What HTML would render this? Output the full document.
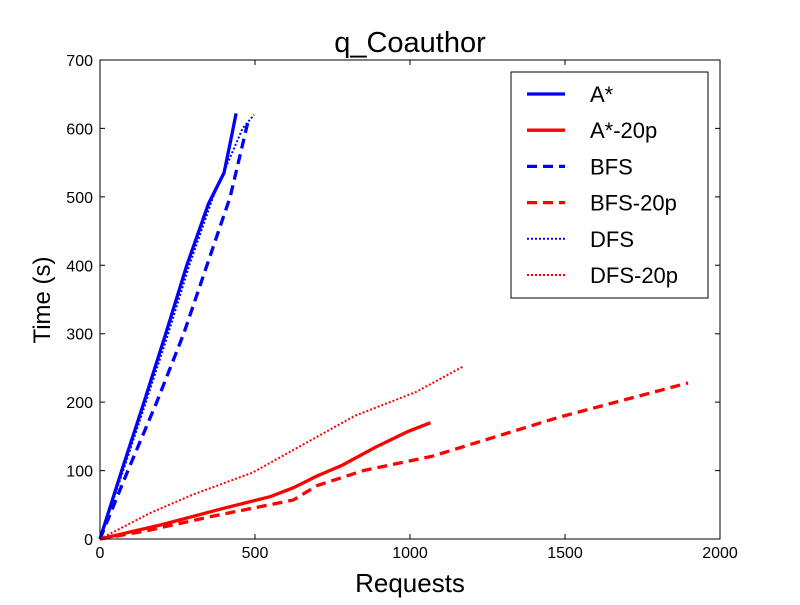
<!DOCTYPE html>
<html><head><meta charset="utf-8"><style>
body{margin:0;background:#fff;}
svg text{font-family:"Liberation Sans","DejaVu Sans",sans-serif;}
</style></head><body>
<svg id="chart" width="800" height="600" xmlns="http://www.w3.org/2000/svg">
<rect width="800" height="600" fill="#fff"/>
<text x="410" y="52" font-size="29" text-anchor="middle">q_Coauthor</text>
<g id="ticks"></g>
<g id="series"></g>
<rect x="100" y="60" width="620" height="479" fill="none" stroke="#000" stroke-width="1"/>
<text x="410" y="592" font-size="26" text-anchor="middle">Requests</text>
<text x="50" y="300" font-size="24" text-anchor="middle" transform="rotate(-90 50 300)">Time (s)</text>
<g id="legend"></g>
</svg>
<script>
const xTicks=[0,500,1000,1500,2000];
const yTicks=[0,100,200,300,400,500,600,700];
const seriesNames=["A*","A*-20p","BFS","BFS-20p","DFS","DFS-20p"];
const seriesColors=["#0000ff","#ff0000","#0000ff","#ff0000","#0000ff","#ff0000"];
const seriesDash=["","","10,6","10,6","2,2","2,2"];
const astar=[[0,0],[70,100],[142,200],[212,300],[280,400],[350,490],[400,535],[425,590],[439,622]];
const astar20=[[0,0],[200,21],[400,45],[550,62],[624,75],[700,92],[782,108],[888,134],[993,157],[1066,170]];
const bfs=[[0,0],[90,100],[183,200],[270,300],[345,400],[420,500],[480,615]];
const bfs20=[[0,0],[150,12],[360,33],[624,57],[700,78],[850,100],[1072,121],[1481,178],[1897,228]];
const dfs=[[0,0],[75,100],[148,200],[220,300],[288,400],[365,500],[460,600],[497,620]];
const dfs20=[[0,0],[162,38],[300,65],[492,97],[822,180],[1020,215],[1171,252]];
const seriesData=[astar,astar20,bfs,bfs20,dfs,dfs20];
const NS="http://www.w3.org/2000/svg";
const X=v=>100+v*620/2000;
const Y=v=>539-v*479/700;
const tg=document.getElementById('ticks');
xTicks.forEach(t=>{
  const l=document.createElementNS(NS,'path');
  l.setAttribute('d',`M${X(t)},539v-5M${X(t)},60v5`);l.setAttribute('stroke','#000');
  
  
  tg.appendChild(l);
  const tx=document.createElementNS(NS,'text');
  tx.setAttribute('x',X(t));tx.setAttribute('y',558);tx.setAttribute('font-size','16');tx.setAttribute('text-anchor','middle');
  tx.textContent=t;
  
  
  tg.appendChild(tx);
});
yTicks.forEach(t=>{
  const l=document.createElementNS(NS,'path');
  l.setAttribute('d',`M100,${Y(t)}h5M720,${Y(t)}h-5`);l.setAttribute('stroke','#000');
  
  
  tg.appendChild(l);
  const tx=document.createElementNS(NS,'text');
  tx.setAttribute('x',93);tx.setAttribute('y',Y(t)+6);tx.setAttribute('font-size','16');tx.setAttribute('text-anchor','end');
  tx.textContent=t;
  
  
  tg.appendChild(tx);
});
const sg=document.getElementById('series');
const lg=document.getElementById('legend');
const box=document.createElementNS(NS,'rect');
box.setAttribute('x',511);box.setAttribute('y',72);box.setAttribute('width',197);box.setAttribute('height',226);
box.setAttribute('fill','#fff');box.setAttribute('stroke','#000');


lg.appendChild(box);
seriesData.forEach((d,i)=>{
  const p=document.createElementNS(NS,'polyline');
  p.setAttribute('points',d.map(q=>X(q[0])+','+Y(q[1])).join(' '));
  p.setAttribute('fill','none');p.setAttribute('stroke',seriesColors[i]);
  p.setAttribute('stroke-width',seriesDash[i]==="2,2"?2:3.3);
  if(seriesDash[i])p.setAttribute('stroke-dasharray',seriesDash[i]);
  
  
  sg.appendChild(p);
  const yy=94+i*36.2;
  const l=document.createElementNS(NS,'line');
  l.setAttribute('x1',527);l.setAttribute('x2',565);l.setAttribute('y1',yy);l.setAttribute('y2',yy);
  l.setAttribute('stroke',seriesColors[i]);l.setAttribute('stroke-width',seriesDash[i]==="2,2"?2:3.3);
  if(seriesDash[i])l.setAttribute('stroke-dasharray',seriesDash[i]);
  
  
  lg.appendChild(l);
  const t=document.createElementNS(NS,'text');
  t.setAttribute('x',590);t.setAttribute('y',yy+8);t.setAttribute('font-size','22');
  t.textContent=seriesNames[i];
  
  
  lg.appendChild(t);
});
</script>
</body></html>
